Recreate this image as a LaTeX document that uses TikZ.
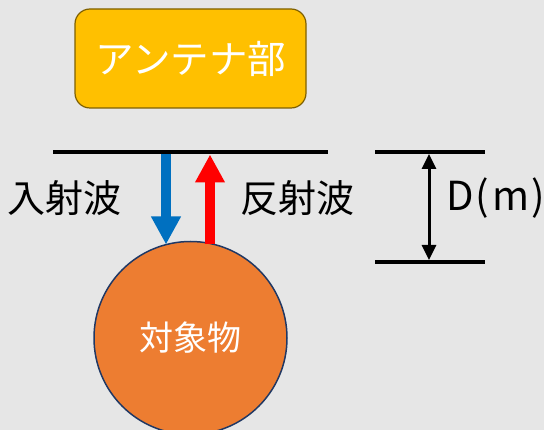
\documentclass[tikz,border=0pt]{standalone}
\usepackage{fontspec}
\setmainfont{Noto Sans CJK JP}
\usetikzlibrary{arrows.meta}
\definecolor{bg}{HTML}{E6E6E6}
\definecolor{gold}{HTML}{FFC000}
\definecolor{goldline}{HTML}{7F6000}
\definecolor{orng}{HTML}{ED7D31}
\definecolor{navy}{HTML}{203864}
\definecolor{blu}{HTML}{0070C0}
\definecolor{rd}{HTML}{FF0000}
\tikzset{
  bar/.style={line width=4.5pt, black},
  fatarrow/.style={line width=10pt, -{Triangle[width=28pt,length=28pt]}},
  dimarrow/.style={line width=3pt, {Triangle[width=14pt,length=15pt]}-{Triangle[width=14pt,length=15pt]}},
  lbl/.style={font=\fontsize{38}{44}\selectfont, text=black, inner sep=0pt},
}
\begin{document}
\begin{tikzpicture}[x=1pt,y=-1pt]
\fill[bg] (0,0) rectangle (544,430);
\useasboundingbox (0,0) rectangle (544,430);
% antenna
\node[draw=goldline, line width=1.2pt, fill=gold, rounded corners=15pt,
      minimum width=231pt, minimum height=99pt, inner sep=0pt,
      text=white, font=\fontsize{38.5}{44}\selectfont] (ant) at (190.5,58.5) {アンテナ部};
% top line
\coordinate (L1) at (53,152);
\coordinate (L2) at (328,152);
\draw[bar] (L1) -- (L2);
% object
\node[circle, draw=navy, line width=1.5pt, fill=orng, minimum size=193pt, inner sep=0pt,
      text=white, font=\fontsize{34}{40}\selectfont] (obj) at (190.5,338) {対象物};
% arrows
\coordinate (bin) at (166,154.5);
\coordinate (bout) at (166,244.5);
\coordinate (rin) at (210,244);
\coordinate (rout) at (210,154.5);
\draw[fatarrow, blu] (bin) -- (bout);
\draw[fatarrow, rd] (rin) -- (rout);
% labels
\node[lbl] (inc) at (65,198) {入射波};
\node[lbl] (ref) at (297,198) {反射波};
% distance
\coordinate (D1a) at (375,152);
\coordinate (D1b) at (485,152);
\coordinate (D2a) at (375,262);
\coordinate (D2b) at (485,262);
\draw[line width=4pt] (D1a) -- (D1b);
\draw[line width=4pt] (D2a) -- (D2b);
\coordinate (dt) at (429,154);
\coordinate (db) at (429,260);
\draw[dimarrow] (dt) -- (db);
\node[lbl, anchor=west, font=\fontsize{40}{46}\selectfont] (dm) at (446,198) {D\kern2pt(\kern3pt m\kern2pt)};
\end{tikzpicture}
\end{document}
